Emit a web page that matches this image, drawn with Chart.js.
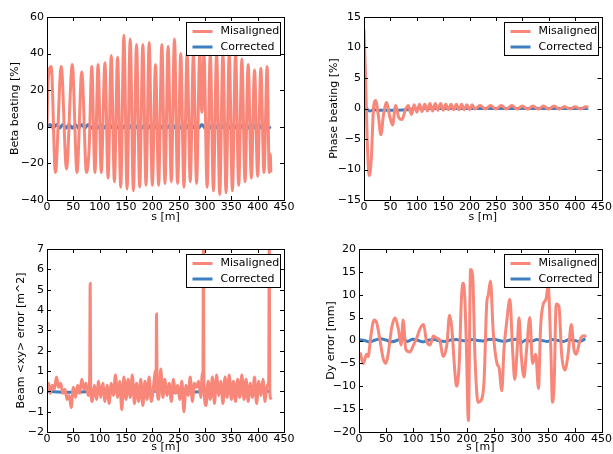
<!DOCTYPE html>
<html>
<head>
<meta charset="utf-8">
<script src="https://cdn.jsdelivr.net/npm/chart.js@4"></script>
<style>
body { margin: 0; background: #fff; }
#wrap { position: relative; width: 613px; height: 454px; overflow: hidden; }
canvas { position: absolute; }
</style>
</head>
<body>
<div id="wrap">
<canvas id="c1" style="left:0;top:0"></canvas>
<canvas id="c2" style="left:306px;top:0"></canvas>
<canvas id="c3" style="left:0;top:230px"></canvas>
<canvas id="c4" style="left:306px;top:230px"></canvas>
</div>
<script>
// Beta beating
const betaS = [0,2,8,16,27,37,48,57,66,75,80,85,91,97,103,110,116,122,128,134,140,146,152,158,164,170,176,182,188,194,200,206,212,218,224,230,236,242,248,254,260,266,272,278,284,290,294,298,304,310,316,322,328,334,340,346,352,358,364,370,376,382,388,394,400,406,412,418,422,424,425];
const betaMis = [0,25,33,-25,33,-23,34,-25,30,-25,-12,33,-25,34,-25,35,-28,39,-30,38,-33,50,-34,48,-35,45,-33,45,-32,46,-32,34,-32,45,-31,44,-30,48,-31,40,-33,40,-30,40,-31,40,8,40,-33,40,-35,40,-37,40,-36,40,-35,40,-32,37,-30,34,-28,31,-27,32,-25,33,-25,-15,-25];
const betaCorS = [0,6,12,18,24,30,36,42,48,54,60,66,72,78,84,90,96,102,108,114,120,126,132,138,144,150,156,162,168,174,180,186,192,198,204,210,216,222,228,234,240,246,252,258,264,270,276,282,288,294,300,306,312,318,324,330,336,342,348,354,360,366,372,378,384,390,396,402,408,414,420,425];
const betaCor = [0,1.3,-0.8,1.3,-0.8,1.3,-0.8,1.3,-0.8,1.3,-0.8,1.3,-0.8,1.3,-0.8,1.3,-0.8,1.3,-0.8,1.3,-0.8,1.3,-0.8,1.3,-0.8,1.3,-0.8,1.3,-0.8,1.3,-0.8,1.3,-0.8,1.3,-0.8,1.3,-0.8,1.3,-0.8,1.3,-0.8,1.3,-0.8,1.3,-0.8,1.3,-0.8,1.3,-0.8,1.3,-0.8,1.3,-0.8,1.3,-0.8,1.3,-0.8,1.3,-0.8,1.3,-0.8,1.3,-0.8,1.3,-0.8,1.3,-0.8,1.3,-0.8,1.3,-0.8,0];

// Phase beating
const phaseS = [0,3,6,10,14,18,22,27,32,37,43,48,54,60,66,72,78,84,90,95,100,105,110,115,120,125,130,135,140,145,150,155,160,165,170,175,180,185,190,195,200,205,210,220,230,240,250,260,270,280,290,300,310,320,330,340,350,360,370,380,390,400,410,420,425];
const phaseMis = [13,5,-5,-11,-8,0,1.3,-1,-4.3,-1,1,-1,-2.7,0.5,-1.5,-1.8,-0.3,0.5,-1,0.6,-0.6,0.7,-0.5,0.7,-0.4,0.8,-0.4,0.8,-0.3,0.8,-0.3,0.7,-0.2,0.7,-0.2,0.7,-0.2,0.7,-0.2,0.6,-0.2,0.6,-0.1,0.5,-0.1,0.5,-0.1,0.5,-0.1,0.5,-0.1,0.4,-0.1,0.4,-0.1,0.4,-0.1,0.4,-0.1,0.3,-0.1,0.3,-0.1,0.3,0.2];
const phaseCorS = [0,5,10,20,30,50,80,100,200,300,425];
const phaseCor = [0.5,0,-0.4,-0.2,-0.3,-0.3,-0.2,0,0,0,0];

// Beam <xy> error
const xyS = [0,3,6,10,14,18,22,26,30,34,38,42,46,50,54,58,62,66,70,74,78,81,82,83,86,90,94,98,102,106,110,114,118,122,126,130,134,138,142,146,150,154,158,162,166,170,174,178,182,186,190,194,198,202,206,207,208,209,212,216,220,224,228,232,236,240,244,248,252,256,260,264,268,272,276,280,284,288,292,295,296,297,298,302,306,310,314,318,322,326,330,334,338,342,346,350,354,358,362,366,370,374,378,382,386,390,394,398,402,406,410,414,418,421,422,423,424,426];
const xyMis = [0,0.4,-0.1,0.3,0.1,0.7,0.2,0.4,-0.1,0.1,-0.4,-0.2,-0.8,0.2,-0.3,0.3,-0.1,0.6,0.1,0.4,-0.2,0.7,5.3,0.2,-0.5,0.3,-0.4,0.5,-0.3,0.4,-0.5,0.3,-0.6,0.4,-0.2,0.8,-0.3,0.5,-0.9,0.7,-0.4,0.6,-0.3,0.8,-0.6,0.4,-0.5,0.6,-0.7,0.5,-0.4,0.7,-0.5,0.2,1.0,0,3.8,0.2,-0.4,1.1,-0.3,0.6,-0.2,0.4,-0.5,0.6,-0.1,0.3,-0.4,0.5,-1.0,0.3,-0.2,0.7,-0.5,0.4,0.2,0.5,-0.3,0.9,0,7.5,0.3,-0.7,0.5,-0.4,0.7,-0.6,0.8,-0.2,0.5,-0.6,0.7,-0.3,0.8,-0.4,0.5,-0.5,0.6,-0.3,0.8,-0.4,0.6,-0.5,0.4,-0.3,0.7,-0.6,0.5,-0.2,0.6,-0.5,0.3,0.5,7.5,0.2,-0.3,-0.4];
const xyCorS = [0,40,80,82,84,120,206,208,210,260,295,297,299,380,425];
const xyCor = [0,-0.05,0,0.35,0,0,0,0.15,0,-0.05,0,0.35,0,0,0];

// Dy error
const dyS = [2,8,14,17,22,28,33,39,45,50,54,61,67,73,78,82,87,95,101,107,113,120,125,132,138,144,150,156,163,168,172,178,181,186,190,193,196,199,203,207,211,215,221,227,232,237,240,244,249,256,260,265,269,274,280,285,289,293,297,301,306,311,317,322,328,333,337,342,347,351,356,359,362,366,371,376,382,388,394,399,403,410,415,422];
const dyMis = [-2.6,-5,-3,-3.5,1,4.5,3.8,0,-4,-5,-3,3,5,2.5,-1,4.5,-2,-2.5,-1,0.5,2.5,3.5,0,-1,1,0.5,0,-3.5,-1,5.5,3,-7,-10,-5,9,12.5,10,0,-17.5,15.5,14,-3,-13.5,-13,-9,8,10,13,2,-5,-6,-11,-2,4,9,-2,-8.5,-3,5,-3,-8,-2,5,-5,-3,-10.5,3,8,9,12,-2,-13.5,-10,8,7.5,-3,-6.5,-3,3.5,-2,-3,0,1,1];
const dyCorS = [0,10,20,30,40,50,60,70,80,90,100,110,120,130,140,150,160,170,180,190,200,210,220,230,240,250,260,270,280,290,300,310,320,330,340,350,360,370,380,390,400,410,420];
const dyCor = [0.2,0,-0.3,0.1,0.4,0.1,-0.3,0,0.4,-0.2,0.3,0,-0.3,0.1,0.2,-0.1,-0.2,0.1,0.2,0,-0.1,0.2,0,-0.1,0.2,0.3,0,-0.2,0.1,0.3,-0.5,0.1,-0.2,0.2,0,-0.2,0.2,0,-0.2,0.2,0,-0.2,0.4];

const xTicks = [0,50,100,150,200,250,300,350,400,450];
const FONT = 'DejaVu Sans';
const RED = '#f8877a', BLUE = '#3d7fc0';

function pts(s, v) { return s.map((x, i) => ({x: x, y: v[i]})); }

const frame = {
  id: 'frame',
  afterDatasetsDraw(chart) {
    const ctx = chart.ctx, a = chart.chartArea;
    const xs = chart.scales.x, ys = chart.scales.y;
    ctx.save();
    ctx.strokeStyle = '#000'; ctx.lineWidth = 1;
    ctx.beginPath();
    xs.ticks.forEach(t => {
      const p = Math.round(xs.getPixelForValue(t.value)) + 0.5;
      ctx.moveTo(p, a.bottom); ctx.lineTo(p, a.bottom - 4);
      ctx.moveTo(p, a.top); ctx.lineTo(p, a.top + 4);
    });
    ys.ticks.forEach(t => {
      const p = Math.round(ys.getPixelForValue(t.value)) + 0.5;
      ctx.moveTo(a.left, p); ctx.lineTo(a.left + 4, p);
      ctx.moveTo(a.right, p); ctx.lineTo(a.right - 4, p);
    });
    ctx.stroke();
    ctx.strokeRect(Math.round(a.left) + 0.5, Math.round(a.top) + 0.5, Math.round(a.right - a.left), Math.round(a.bottom - a.top));
    // legend
    const w = 94, h = 33, x0 = Math.round(a.right) - w - 4 + 0.5, y0 = Math.round(a.top) + 5.5;
    ctx.fillStyle = '#fff';
    ctx.fillRect(x0, y0, w, h);
    ctx.strokeRect(x0, y0, w, h);
    ctx.font = '11px ' + FONT; ctx.fillStyle = '#000'; ctx.textBaseline = 'middle';
    [['Misaligned', RED], ['Corrected', BLUE]].forEach((d, i) => {
      const yy = y0 + 9 + i * 15.5;
      ctx.strokeStyle = d[1]; ctx.lineWidth = 3;
      ctx.beginPath(); ctx.moveTo(x0 + 6, yy); ctx.lineTo(x0 + 26, yy); ctx.stroke();
      ctx.fillText(d[0], x0 + 34, yy);
    });
    ctx.restore();
  }
};

function makeChart(id, w, h, cfg) {
  const el = document.getElementById(id);
  el.style.width = w + 'px'; el.style.height = h + 'px';
  return new Chart(el, {
    type: 'line',
    data: {
      datasets: [
        { data: pts(cfg.misS, cfg.mis), borderColor: RED, borderWidth: 3, pointRadius: 0, cubicInterpolationMode: 'monotone' },
        { data: pts(cfg.corS, cfg.cor), borderColor: BLUE, borderWidth: 3, pointRadius: 0, cubicInterpolationMode: 'monotone' }
      ]
    },
    options: {
      responsive: false, animation: false, devicePixelRatio: 1,
      layout: { padding: { top: cfg.padTop, right: cfg.padRight, left: cfg.padLeft, bottom: 0 } },
      plugins: { legend: { display: false }, tooltip: { enabled: false } },
      scales: {
        x: {
          type: 'linear', min: 0, max: 450,
          afterBuildTicks: s => { s.ticks = xTicks.map(v => ({value: v})); },
          afterFit: s => { s.height = cfg.xH; },
          grid: { display: false, drawTicks: false }, border: { display: false },
          ticks: { color: '#000', font: { family: FONT, size: 11 }, padding: 1, maxRotation: 0 },
          title: { display: true, text: 's [m]', color: '#000', font: { family: FONT, size: 11 }, padding: 0 }
        },
        y: {
          type: 'linear', min: cfg.yMin, max: cfg.yMax,
          afterBuildTicks: s => { s.ticks = cfg.yTicks.map(v => ({value: v})); },
          afterFit: s => { s.width = cfg.yW; },
          grid: { display: false, drawTicks: false }, border: { display: false },
          ticks: { color: '#000', font: { family: FONT, size: 11 }, padding: 3,
                   callback: v => String(v).replace('-', '\u2212') },
          title: { display: true, text: cfg.yTitle, color: '#000', font: { family: FONT, size: 11 }, padding: 0 }
        }
      }
    },
    plugins: [frame]
  });
}

makeChart('c1', 300, 224, { misS: betaS, mis: betaMis, corS: betaCorS, cor: betaCor,
  yMin: -40, yMax: 60, yTicks: [-40,-20,0,20,40,60], yTitle: 'Beta beating [%]',
  padTop: 17, padRight: 16, padLeft: 9, xH: 24, yW: 38 });
makeChart('c2', 307, 224, { misS: phaseS, mis: phaseMis, corS: phaseCorS, cor: phaseCor,
  yMin: -15, yMax: 15, yTicks: [-15,-10,-5,0,5,10,15], yTitle: 'Phase beating [%]',
  padTop: 17, padRight: 11, padLeft: 22, xH: 24, yW: 36 });
makeChart('c3', 300, 224, { misS: xyS, mis: xyMis, corS: xyCorS, cor: xyCor,
  yMin: -2, yMax: 7, yTicks: [-2,-1,0,1,2,3,4,5,6,7], yTitle: 'Beam <xy> error [m^2]',
  padTop: 19, padRight: 16, padLeft: 15, xH: 22, yW: 32 });
makeChart('c4', 307, 224, { misS: dyS, mis: dyMis, corS: dyCorS, cor: dyCor,
  yMin: -20, yMax: 20, yTicks: [-20,-15,-10,-5,0,5,10,15,20], yTitle: 'Dy error [mm]',
  padTop: 19, padRight: 11, padLeft: 19, xH: 22, yW: 34 });
</script>
</body>
</html>
